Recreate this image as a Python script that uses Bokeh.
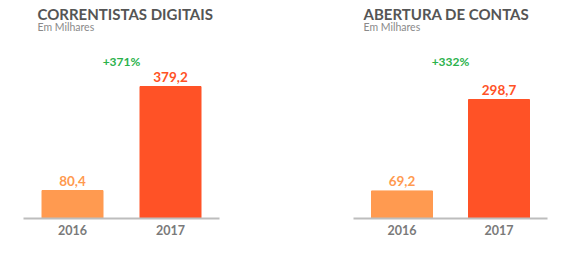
from bokeh.plotting import figure
from bokeh.layouts import row
from bokeh.models import Range1d, Label, ColumnDataSource
from bokeh.core.properties import value
from bokeh.embed import file_html
from bokeh.resources import INLINE

# ---- data ----
years = ["2016", "2017"]
titles = ["CORRENTISTAS DIGITAIS", "ABERTURA DE CONTAS"]
subtitle = "Em Milhares"
correntistas = [80.4, 379.2]
correntistas_labels = ["80,4", "379,2"]
correntistas_growth = "+371%"
aberturas = [69.2, 298.7]
aberturas_labels = ["69,2", "298,7"]
aberturas_growth = "+332%"

bar_colors = ["#FF9A50", "#FF5226"]
FONT_NAME = "Lato"
FONT = value(FONT_NAME)
H = 262


def make_chart(width, title, vals, labels, growth, cx0, spacing, px_per_unit, title_x):
    baseline_px = 218  # from top
    xr = Range1d(-cx0 / spacing, (width - cx0) / spacing)
    yr = Range1d(-(H - baseline_px) / px_per_unit, baseline_px / px_per_unit)
    p = figure(width=width, height=H, x_range=xr, y_range=yr,
               output_backend="svg", toolbar_location=None, min_border=0,
               outline_line_color=None, background_fill_color="white",
               border_fill_color="white")
    p.axis.visible = False
    p.grid.visible = False
    xs = list(range(len(vals)))
    src = ColumnDataSource(dict(x=xs, top=vals, lab=labels, yr=years,
                                color=bar_colors, zero=[0] * len(vals)))
    p.vbar(x="x", top="top", bottom=0, width=61 / spacing, color="color", source=src)
    p.segment(x0=[-0.5], x1=[len(vals) - 0.5], y0=[0], y1=[0],
              line_color="#BDBDBD", line_width=1.8)
    p.text(x="x", y="top", text="lab", source=src, text_color="color",
           text_font=FONT, text_font_style="bold", text_font_size="13.5px",
           text_align="center", text_baseline="middle", y_offset=-10)
    p.text(x="x", y="zero", text="yr", source=src, text_color="#7A7A7A",
           text_font=FONT, text_font_style="bold", text_font_size="12.5px",
           text_align="center", text_baseline="middle", y_offset=11.5)
    p.add_layout(Label(x=0.5, y=H - 60.5, y_units="screen", text=growth,
                       text_color="#2BB24C", text_font=FONT_NAME, text_font_style="bold",
                       text_font_size="12px", text_align="center",
                       text_baseline="middle"))
    p.add_layout(Label(x=title_x, y=H - 13.5, x_units="screen", y_units="screen",
                       text=title, text_color="#555555", text_font=FONT_NAME,
                       text_font_style="bold", text_font_size="15px",
                       text_baseline="middle"))
    p.add_layout(Label(x=title_x, y=H - 26.5, x_units="screen", y_units="screen",
                       text=subtitle, text_color="#8A8A8A", text_font=FONT_NAME,
                       text_font_size="10.5px", text_baseline="middle"))
    return p


p1 = make_chart(283, titles[0], correntistas, correntistas_labels, correntistas_growth,
                72, 98, 132 / 379.2, 37)
p2 = make_chart(284, titles[1], aberturas, aberturas_labels, aberturas_growth,
                118.5, 97, 119 / 298.7, 80)
p = row(p1, p2, spacing=0)

open("out.html", "w").write(file_html(p, INLINE))
